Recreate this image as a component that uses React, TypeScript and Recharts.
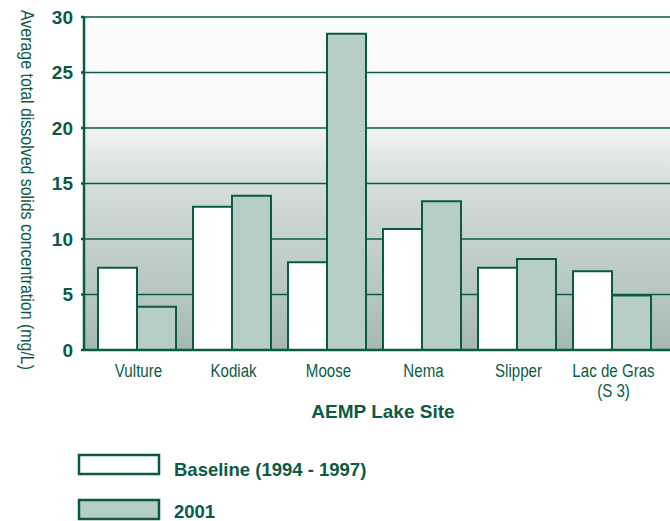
import { BarChart, Bar, XAxis, YAxis, CartesianGrid } from "recharts"

const sites = ["Vulture", "Kodiak", "Moose", "Nema", "Slipper", "Lac de Gras\n(S 3)"]
const baseline = [7.4, 12.9, 7.9, 10.9, 7.4, 7.1]
const year2001 = [3.9, 13.9, 28.5, 13.4, 8.2, 4.9]
const yTicks = [0, 5, 10, 15, 20, 25, 30]

const GREEN = "#0b5b44"
const SAGE = "#b7cec7"
const SANS = "'Liberation Sans', Arial, sans-serif"

const data = sites.map((site, i) => ({ site, baseline: baseline[i], y2001: year2001[i] }))

// condensed look: Arial metrics squeezed horizontally
function SiteTick(props: any) {
  const { x, y, payload } = props
  const lines = String(payload.value).split("\n")
  return (
    <text
      transform={`translate(${x + 2} ${y + 19}) scale(0.84 1)`}
      textAnchor="middle"
      fill={GREEN}
      fontFamily={SANS}
      fontSize={18}
    >
      {lines.map((line, i) => (
        <tspan key={i} x={0} dy={i === 0 ? 0 : 20.5}>
          {line}
        </tspan>
      ))}
    </text>
  )
}

function YTitle() {
  return (
    <text
      x={0}
      y={0}
      transform="translate(21 190) rotate(90)"
      textAnchor="middle"
      fill={GREEN}
      fontFamily={SANS}
      fontSize={17.5}
      textLength={360}
      lengthAdjust="spacingAndGlyphs"
    >
      Average total dissolved solids concentration (mg/L)
    </text>
  )
}

export default function App() {
  return (
    <div style={{ position: "absolute", left: 0, top: 0, width: 670, height: 521, background: "#fff" }}>
      <BarChart
        width={670}
        height={521}
        data={data}
        margin={{ top: 17, right: 0, left: 0, bottom: 101 }}
        barSize={39}
        barGap={0}
      >
        <defs>
          <linearGradient id="lakeBg" x1="0" y1="0" x2="0" y2="1">
            <stop offset="0%" stopColor="#fcfcfc" />
            <stop offset="30%" stopColor="#f8f9f9" />
            <stop offset="38%" stopColor="#e9edeb" />
            <stop offset="46%" stopColor="#dbe3df" />
            <stop offset="58%" stopColor="#cdd7d3" />
            <stop offset="72%" stopColor="#c1cec9" />
            <stop offset="86%" stopColor="#b3c4bd" />
            <stop offset="100%" stopColor="#a5b8b1" />
          </linearGradient>
        </defs>
        <CartesianGrid vertical={false} stroke={GREEN} strokeWidth={1.5} fill="url(#lakeBg)" fillOpacity={1} />
        <XAxis
          dataKey="site"
          height={70}
          padding={{ left: 5, right: 11 }}
          axisLine={{ stroke: GREEN, strokeWidth: 2.5 }}
          tickLine={false}
          interval={0}
          tick={<SiteTick />}
          label={{
            value: "AEMP Lake Site",
            position: "insideBottom",
            offset: 2,
            dx: 6,
            fill: GREEN,
            fontFamily: SANS,
            fontWeight: "bold",
            fontSize: 19,
          }}
        />
        <YAxis
          width={84}
          domain={[0, 30]}
          ticks={yTicks}
          interval={0}
          axisLine={{ stroke: GREEN, strokeWidth: 2.5 }}
          tickLine={{ stroke: GREEN, strokeWidth: 2.5 }}
          tickSize={3}
          tickMargin={8}
          tick={{ fill: GREEN, fontFamily: SANS, fontWeight: "bold", fontSize: 19 }}
          label={<YTitle />}
        />
        <Bar dataKey="baseline" fill="#ffffff" stroke={GREEN} strokeWidth={2} isAnimationActive={false} />
        <Bar dataKey="y2001" fill={SAGE} stroke={GREEN} strokeWidth={2} isAnimationActive={false} />
      </BarChart>
      <svg width={670} height={80} style={{ position: "absolute", left: 0, top: 445 }}>
        <rect x={79} y={10} width={80} height={19} fill="#ffffff" stroke={GREEN} strokeWidth={2.5} />
        <text x={174} y={31} fill={GREEN} fontFamily={SANS} fontWeight="bold" fontSize={18.5}>
          Baseline (1994 - 1997)
        </text>
        <rect x={79} y={55} width={80} height={19} fill={SAGE} stroke={GREEN} strokeWidth={2.5} />
        <text x={174} y={73} fill={GREEN} fontFamily={SANS} fontWeight="bold" fontSize={18.5}>
          2001
        </text>
      </svg>
    </div>
  )
}
